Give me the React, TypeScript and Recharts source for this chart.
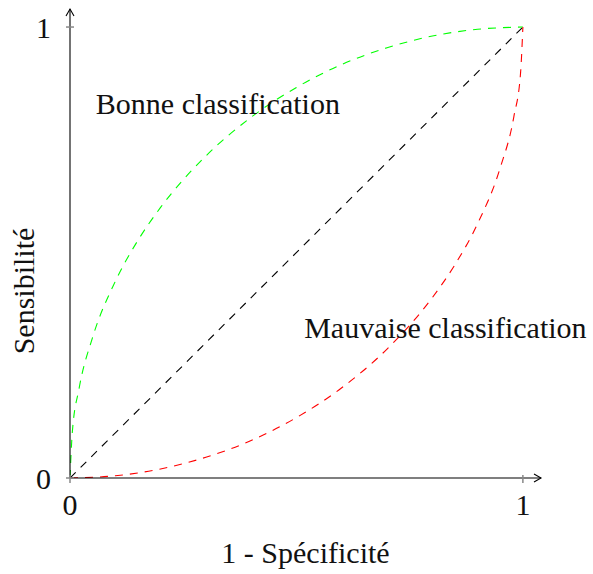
import React from 'react';
import { LineChart, Line, XAxis, YAxis, ReferenceDot, Label } from 'recharts';

// courbe "bonne classification" (verte)
const goodX = [0, 0.005, 0.02, 0.05, 0.1, 0.15, 0.2, 0.3, 0.4, 0.5, 0.6, 0.7, 0.8, 0.9, 1];
const goodY = [0, 0.1, 0.198, 0.312, 0.436, 0.527, 0.6, 0.714, 0.8, 0.866, 0.917, 0.954, 0.98, 0.995, 1];

// courbe "mauvaise classification" (rouge)
const badX = [0, 0.1, 0.2, 0.3, 0.4, 0.5, 0.6, 0.7, 0.8, 0.85, 0.9, 0.95, 0.98, 0.995, 1];
const badY = [0, 0.005, 0.02, 0.046, 0.083, 0.134, 0.2, 0.286, 0.4, 0.473, 0.564, 0.688, 0.801, 0.9, 1];

// diagonale (hasard)
const diagX = [0, 1];
const diagY = [0, 1];

const ticks = [0, 1];
const axisMax = 1.04;

const notes = [
  { text: 'Bonne classification', x: 0.057, y: 0.828 },
  { text: 'Mauvaise classification', x: 0.517, y: 0.331 },
];

const toPoints = (xs: number[], ys: number[]) => xs.map((x, i) => ({ x, y: ys[i] }));

const txt: React.CSSProperties = {
  fontFamily: '"Liberation Serif", "Times New Roman", "DejaVu Serif", serif',
  fontSize: 30,
  fill: '#111',
};

function XTick({ x, y, payload }: any) {
  return (
    <g>
      <line x1={x} x2={x} y1={y - 19} y2={y - 11} stroke="#888" strokeWidth={1.5} />
      <text x={x} y={y} dy="0.71em" textAnchor="middle" style={txt}>
        {payload.value}
      </text>
    </g>
  );
}

function YTick({ x, y, payload }: any) {
  return (
    <g>
      <line x1={x + 15} x2={x + 23} y1={y} y2={y} stroke="#888" strokeWidth={1.5} />
      <text x={x} y={y} dy="0.355em" textAnchor="end" style={txt}>
        {payload.value}
      </text>
    </g>
  );
}

const arrowRight = ({ cx, cy }: any) => (
  <path d={`M${cx - 7},${cy - 4} L${cx},${cy} L${cx - 7},${cy + 4}`} fill="none" stroke="#000" strokeWidth={1.1} />
);
const arrowUp = ({ cx, cy }: any) => (
  <path d={`M${cx - 4},${cy + 7} L${cx},${cy} L${cx + 4},${cy + 7}`} fill="none" stroke="#000" strokeWidth={1.1} />
);

export default function App() {
  return (
    <div style={{ position: 'absolute', left: 0, top: 0, width: 593, height: 574, background: '#fff' }}>
      <LineChart width={593} height={574} margin={{ top: 9, right: 52, left: 40, bottom: 66 }}>
        <XAxis
          type="number"
          dataKey="x"
          domain={[0, axisMax]}
          ticks={ticks}
          allowDataOverflow
          tickLine={false}
          tickSize={0}
          tickMargin={16}
          height={30}
          axisLine={{ stroke: '#000', strokeWidth: 1.1 }}
          tick={<XTick />}
        >
          <Label
            content={({ viewBox }: any) => (
              <text x={viewBox.x + viewBox.width / 2} y={563} textAnchor="middle" style={txt}>
                1 - Spécificité
              </text>
            )}
          />
        </XAxis>
        <YAxis
          type="number"
          dataKey="y"
          domain={[0, axisMax]}
          ticks={ticks}
          allowDataOverflow
          tickLine={false}
          tickSize={0}
          tickMargin={19}
          width={30}
          axisLine={{ stroke: '#000', strokeWidth: 1.1 }}
          tick={<YTick />}
        >
          <Label
            content={() => (
              <text x={34} y={291} transform="rotate(-90, 34, 291)" textAnchor="middle" style={txt}>
                Sensibilité
              </text>
            )}
          />
        </YAxis>
        <Line
          data={toPoints(diagX, diagY)}
          dataKey="y"
          type="linear"
          stroke="#000"
          strokeWidth={1.1}
          strokeDasharray="8 7"
          dot={false}
          activeDot={false}
          isAnimationActive={false}
        />
        <Line
          data={toPoints(goodX, goodY)}
          dataKey="y"
          type="monotone"
          stroke="#00ff00"
          strokeWidth={1.1}
          strokeDasharray="8 7"
          dot={false}
          activeDot={false}
          isAnimationActive={false}
        />
        <Line
          data={toPoints(badX, badY)}
          dataKey="y"
          type="monotone"
          stroke="#ff0000"
          strokeWidth={1.1}
          strokeDasharray="8 7"
          dot={false}
          activeDot={false}
          isAnimationActive={false}
        />
        <ReferenceDot x={axisMax} y={0} r={0} ifOverflow="visible" shape={arrowRight} />
        <ReferenceDot x={0} y={axisMax} r={0} ifOverflow="visible" shape={arrowUp} />
        {notes.map((n) => (
          <ReferenceDot
            key={n.text}
            x={n.x}
            y={n.y}
            r={0}
            ifOverflow="visible"
            shape={({ cx, cy }: any) => (
              <text x={cx} y={cy} dy="0.3em" style={txt}>
                {n.text}
              </text>
            )}
          />
        ))}
      </LineChart>
    </div>
  );
}
